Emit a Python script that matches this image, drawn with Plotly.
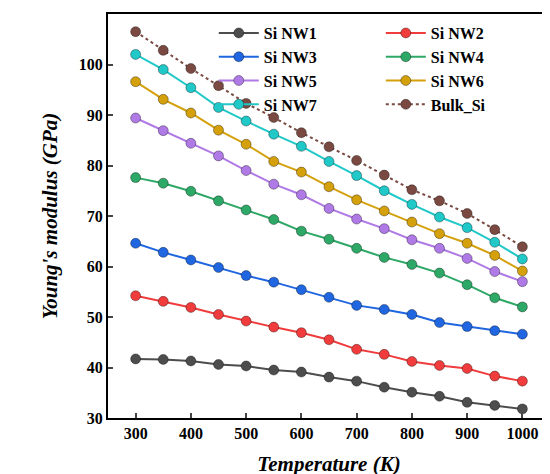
import plotly.graph_objects as go

temps = [300,350,400,450,500,550,600,650,700,750,800,850,900,950,1000]
nw1 = [41.7,41.6,41.3,40.6,40.3,39.5,39.1,38.1,37.3,36.1,35.1,34.3,33.1,32.5,31.8]
nw2 = [54.2,53.1,51.9,50.5,49.2,48.0,46.9,45.5,43.6,42.6,41.2,40.4,39.8,38.3,37.3]
nw3 = [64.6,62.8,61.3,59.8,58.2,56.9,55.4,53.9,52.3,51.5,50.5,48.9,48.1,47.3,46.6]
nw4 = [77.6,76.5,74.9,73.0,71.2,69.3,67.0,65.4,63.6,61.8,60.4,58.7,56.4,53.8,52.0]
nw5 = [89.4,86.9,84.4,81.9,79.0,76.3,74.2,71.5,69.4,67.5,65.3,63.6,61.6,59.0,57.0]
nw6 = [96.6,93.1,90.4,87.0,84.2,80.8,78.7,75.8,73.2,71.0,68.8,66.5,64.6,62.2,59.1]
nw7 = [102.0,99.0,95.4,91.5,88.8,86.2,83.8,80.8,78.0,75.0,72.3,69.8,67.7,64.8,61.5]
bulk = [106.5,102.8,99.2,95.8,92.3,89.5,86.5,83.7,81.0,78.1,75.2,73.0,70.5,67.3,63.9]
xticks = [300,400,500,600,700,800,900,1000]
yticks = [30,40,50,60,70,80,90,100,110]

series = [("Si NW1", nw1, "#4d4d4d", "solid"), ("Si NW2", nw2, "#f03c3c", "solid"),
          ("Si NW3", nw3, "#1f66e0", "solid"), ("Si NW4", nw4, "#2ea866", "solid"),
          ("Si NW5", nw5, "#b07ae6", "solid"), ("Si NW6", nw6, "#d4a00c", "solid"),
          ("Si NW7", nw7, "#20c8c8", "solid"), ("Bulk_Si", bulk, "#7a4a42", "dot")]

SERIF = "Liberation Serif"
fig = go.Figure()
for name, ys, col, dash in series:
    fig.add_trace(go.Scatter(x=temps, y=ys, name="<b>%s</b>" % name, mode="lines+markers",
        line=dict(color=col, width=2, dash=dash),
        marker=dict(size=10, color=col, line=dict(color="rgba(0,0,0,0.35)", width=1))))

fig.update_layout(width=550, height=474, margin=dict(l=100, r=8, t=4, b=64),
    plot_bgcolor="white", paper_bgcolor="white",
    font=dict(family=SERIF, size=15, color="black"),
    legend=dict(x=0.995, y=0.995, xanchor="right", yanchor="top", orientation="h",
                entrywidth=112, font=dict(family=SERIF, size=16, color="black"),
                bgcolor="rgba(0,0,0,0)", traceorder="normal", itemwidth=40, tracegroupgap=0))
axis = dict(showline=True, linecolor="black", linewidth=2, mirror=True, ticks="inside",
            tickwidth=2, ticklen=5, showgrid=False, zeroline=False,
            tickfont=dict(family=SERIF, size=16, color="black"))
fig.update_xaxes(**axis, range=[250, 1050], tickvals=xticks, ticktext=["<b>%d</b>" % t for t in xticks],
    title=dict(text="<b><i>Temperature (K)</i></b>", font=dict(family=SERIF, size=21)))
fig.update_yaxes(**axis, range=[30, 110], tickvals=yticks, ticktext=["<b>%d</b>" % t for t in yticks],
    title=dict(text="<b><i>Young's modulus (GPa)</i></b>", font=dict(family=SERIF, size=21)))
fig.write_html("out.html")
